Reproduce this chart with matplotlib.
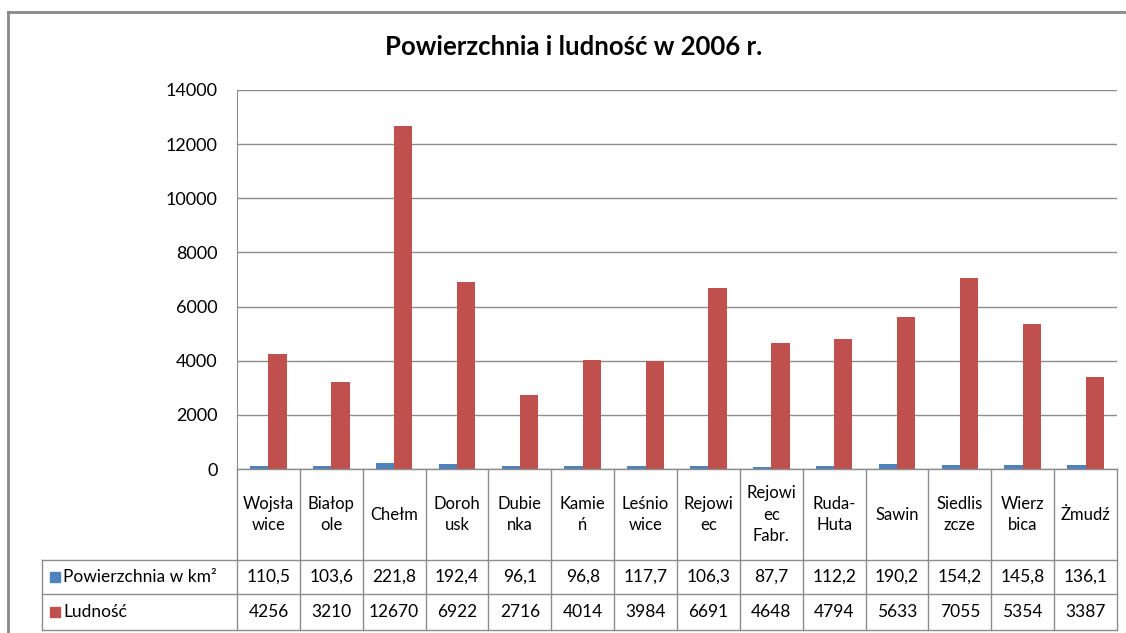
import numpy as np
import matplotlib
matplotlib.use('Agg')
import matplotlib.pyplot as plt
from matplotlib.lines import Line2D
from matplotlib.patches import Rectangle
from matplotlib.transforms import blended_transform_factory

# Dane
gminy = ['Wojsła\nwice', 'Białop\nole', 'Chełm', 'Doroh\nusk', 'Dubie\nnka',
         'Kamie\nń', 'Leśnio\nwice', 'Rejowi\nec', 'Rejowi\nec\nFabr.',
         'Ruda-\nHuta', 'Sawin', 'Siedlis\nzcze', 'Wierz\nbica', 'Żmudź']
powierzchnia = [110.5, 103.6, 221.8, 192.4, 96.1, 96.8, 117.7, 106.3, 87.7,
                112.2, 190.2, 154.2, 145.8, 136.1]
ludnosc = [4256, 3210, 12670, 6922, 2716, 4014, 3984, 6691, 4648, 4794,
           5633, 7055, 5354, 3387]
serie = ['Powierzchnia w km²', 'Ludność']
yticks = [0, 2000, 4000, 6000, 8000, 10000, 12000, 14000]

NIEBIESKI = '#4F81BD'
CZERWONY = '#C0504D'
SZARY = '#8C8C8C'

plt.rcParams['font.family'] = ['Lato', 'DejaVu Sans']

W, H = 1126, 633
fig = plt.figure(figsize=(W / 100, H / 100), dpi=100)


def fx(px):
    return px / W


def fy(px):
    return 1 - px / H


# Ramka wykresu
fig.add_artist(Line2D([fx(8), fx(8)], [fy(12), 0], color='#888888', lw=2))
fig.add_artist(Line2D([fx(8), 1], [fy(12), fy(12)], color='#888888', lw=2))

# Obszar wykresu
x0, x1, ytop, y0 = 237, 1117, 90, 469
ax = fig.add_axes([fx(x0), fy(y0), fx(x1) - fx(x0), fy(ytop) - fy(y0)])

n = len(gminy)
x = np.arange(n) + 0.5
w = 0.29
ax.bar(x - w / 2, powierzchnia, w, color=NIEBIESKI, zorder=3)
ax.bar(x + w / 2, ludnosc, w, color=CZERWONY, zorder=3)

ax.set_xlim(0, n)
ax.set_ylim(0, 14000)
ax.set_yticks(yticks)
ax.set_yticklabels([str(v) for v in yticks])
ax.tick_params(axis='y', length=0, pad=14, labelsize=13)
ax.set_xticks([])
ax.grid(axis='y', color=SZARY, lw=1, zorder=0)
for s in ['top', 'right', 'bottom']:
    ax.spines[s].set_visible(False)
ax.spines['left'].set_color(SZARY)

# Tytuł
fig.text(fx(574), fy(47), 'Powierzchnia i ludność w 2006 r.', ha='center',
         va='center', fontsize=18.5, fontweight='bold')

# Tabela danych
tr = blended_transform_factory(ax.transData, fig.transFigure)
r0, r1, r2, r3 = 469, 560, 594, 630
tab_left = 42

for i in range(n + 1):
    ax.add_line(Line2D([i, i], [fy(r0), fy(r3)], transform=tr, color=SZARY,
                       lw=1, clip_on=False))
for r in [r0, r1, r2, r3]:
    fig.add_artist(Line2D([fx(tab_left if r != r0 else x0), fx(x1)], [fy(r), fy(r)],
                          color=SZARY, lw=1))
fig.add_artist(Line2D([fx(tab_left), fx(tab_left)], [fy(r1), fy(r3)],
                      color=SZARY, lw=1))

for i in range(n):
    ax.text(x[i], fy((r0 + r1) / 2), gminy[i], transform=tr, ha='center',
            va='center', fontsize=12, linespacing=1.45, clip_on=False)
    ax.text(x[i], fy((r1 + r2) / 2), f'{powierzchnia[i]:.1f}'.replace('.', ','),
            transform=tr, ha='center', va='center', fontsize=12.5, clip_on=False)
    ax.text(x[i], fy((r2 + r3) / 2), str(ludnosc[i]), transform=tr,
            ha='center', va='center', fontsize=12.5, clip_on=False)

# Legenda w tabeli
for (ra, rb), nazwa, kolor in zip([(r1, r2), (r2, r3)], serie, [NIEBIESKI, CZERWONY]):
    yc = (ra + rb) / 2
    fig.add_artist(Rectangle((fx(50), fy(yc + 5)), fx(10), 10 / H,
                             color=kolor, transform=fig.transFigure))
    fig.text(fx(63), fy(yc), nazwa, ha='left', va='center', fontsize=12.5)

plt.savefig('out.png', dpi=100)
